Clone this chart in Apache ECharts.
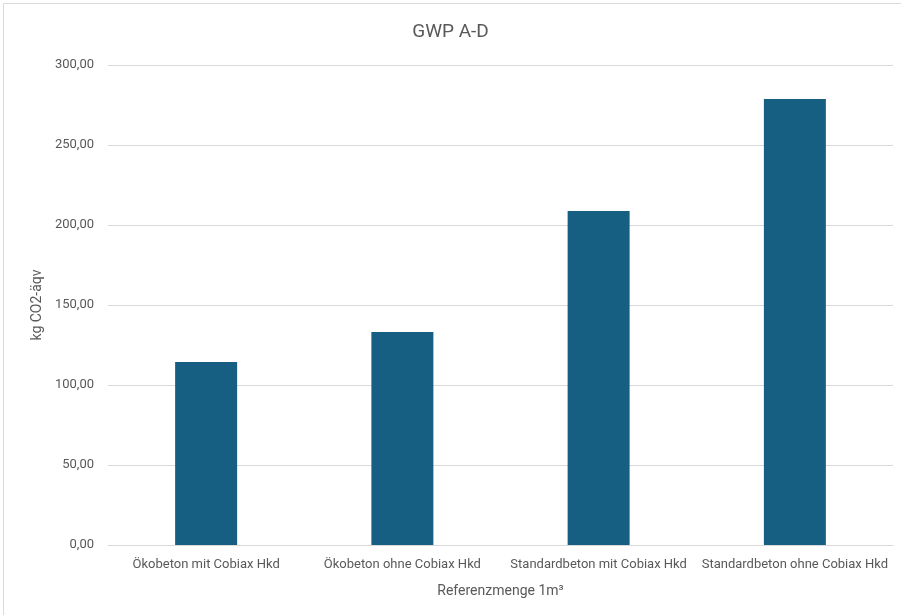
<!DOCTYPE html>
<html>
<head>
<meta charset="utf-8">
<script src="https://cdn.jsdelivr.net/npm/echarts@6/dist/echarts.min.js"></script>
<style>
  html, body { margin: 0; padding: 0; background: #fff; }
  #chart { width: 901px; height: 615px; }
</style>
</head>
<body>
<div id="chart"></div>
<script>
// Daten
var categories = ['Ökobeton mit Cobiax Hkd', 'Ökobeton ohne Cobiax Hkd', 'Standardbeton mit Cobiax Hkd', 'Standardbeton ohne Cobiax Hkd'];
var gwpValues = [114.3, 133.2, 208.8, 278.7];

var textFont = '"Liberation Sans Narrow", "Roboto", sans-serif';

var myChart = echarts.init(document.getElementById('chart'));
var option = {
    animation: false,
    backgroundColor: '#fff',
    title: {
        text: 'GWP A-D',
        left: 'center',
        top: 18,
        textStyle: {
            color: '#595959',
            fontWeight: 'normal',
            fontSize: 19,
            fontFamily: textFont
        }
    },
    graphic: [{
        type: 'rect',
        shape: { x: 3.5, y: 3.5, width: 901, height: 620 },
        style: { fill: 'none', stroke: '#d9d9d9', lineWidth: 1 }
    }],
    grid: {
        left: 108,
        right: 8,
        top: 65,
        bottom: 70
    },
    xAxis: {
        type: 'category',
        data: categories,
        name: 'Referenzmenge 1m³',
        nameLocation: 'middle',
        nameGap: 39,
        nameTextStyle: { color: '#595959', fontSize: 14, fontFamily: textFont },
        axisLine: { lineStyle: { color: '#d9d9d9' } },
        axisTick: { show: false },
        axisLabel: { color: '#595959', fontSize: 13, fontFamily: textFont, margin: 13, interval: 0 }
    },
    yAxis: {
        type: 'value',
        min: 0,
        max: 300,
        interval: 50,
        name: 'kg CO2-äqv',
        nameLocation: 'middle',
        nameGap: 61,
        nameTextStyle: { color: '#595959', fontSize: 14, fontFamily: textFont },
        axisLine: { show: false },
        axisTick: { show: false },
        axisLabel: {
            color: '#595959',
            fontSize: 13,
            fontFamily: textFont,
            margin: 14,
            formatter: function (v) { return v.toFixed(2).replace('.', ','); }
        },
        splitLine: { lineStyle: { color: '#d9d9d9' } }
    },
    series: [{
        type: 'bar',
        data: gwpValues,
        barWidth: 62,
        itemStyle: { color: '#175f82' }
    }]
};
myChart.setOption(option);
</script>
</body>
</html>
